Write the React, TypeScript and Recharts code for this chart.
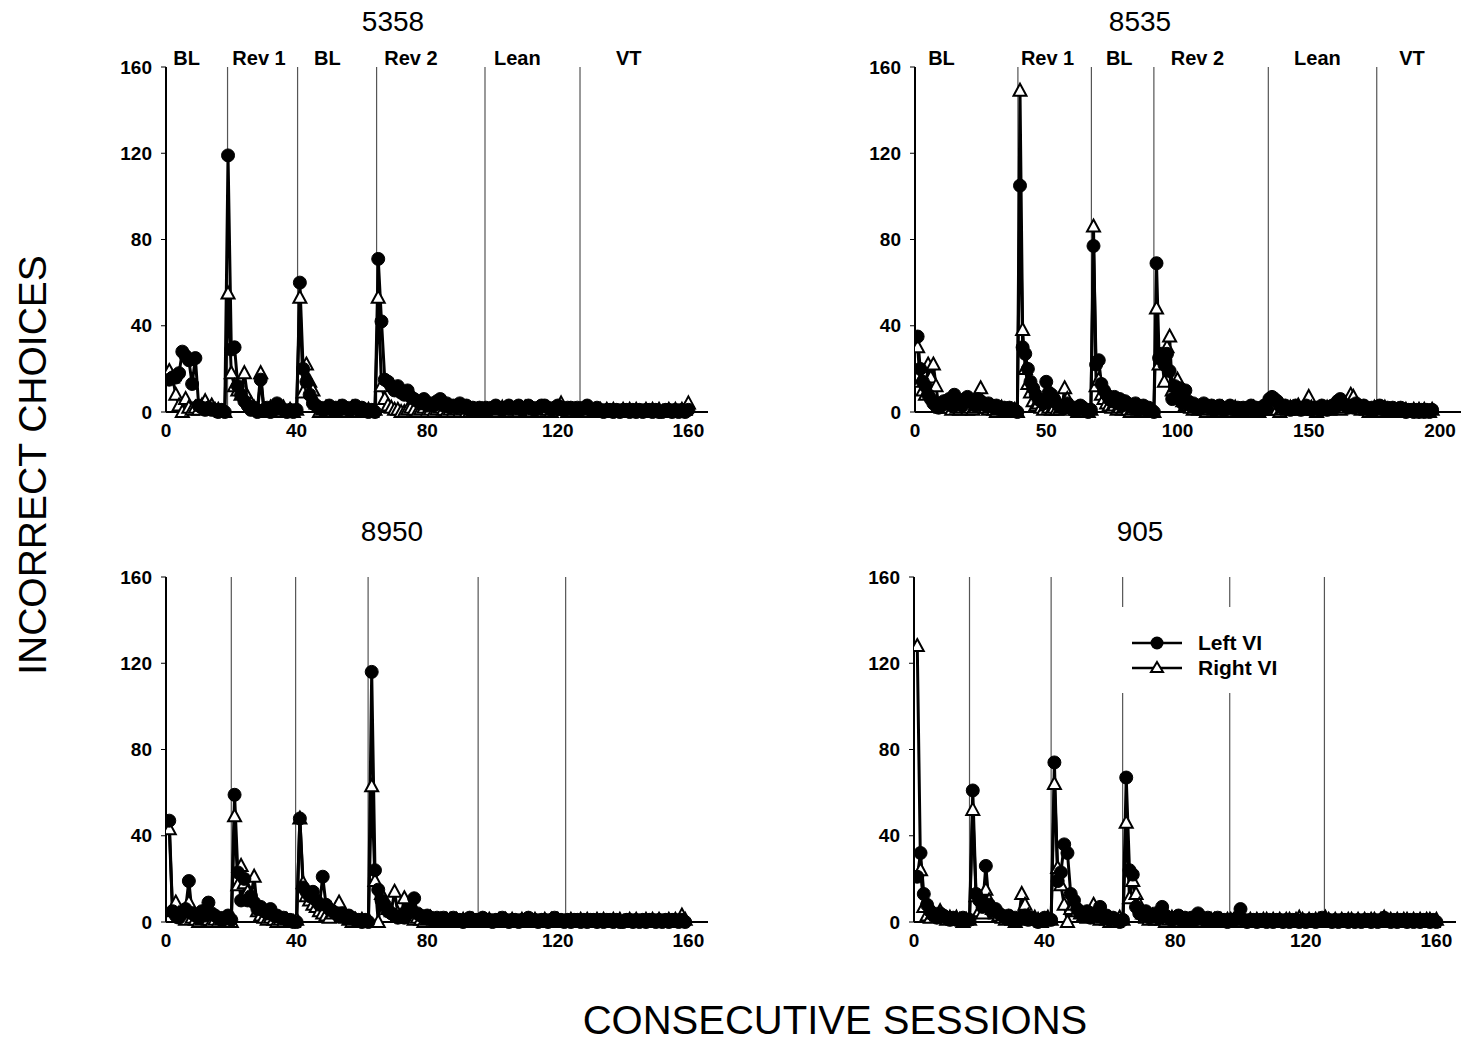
import { LineChart, Line, XAxis, YAxis, ReferenceLine, Legend } from "recharts";

const FONT = "'Liberation Sans', Arial, Helvetica, sans-serif";

// incorrect choices per session, one array per bird and lever
const left5358 = [
  15, 16, 16, 18, 28, 26, 24, 13, 25, 3, 2, 1, 2, 1, 1, 0, 1, 0,
  119, 29, 30, 12, 8, 5, 3, 1, 2, 0, 15, 1, 2, 0, 1, 4, 2, 1, 0, 1, 0, 1,
  60, 20, 14, 8, 4, 3, 2, 1, 2, 3, 1, 2, 1, 3, 2, 1, 2, 3, 1, 2, 1, 0, 1, 0,
  71, 42, 15, 14, 12, 10, 12, 9, 8, 10, 7, 6, 5, 4, 6, 3, 4, 3, 5, 6, 3, 4, 2, 3, 2, 4, 2, 3, 1, 2, 1, 2,
  1, 2, 1, 2, 3, 2, 1, 2, 3, 2, 2, 3, 1, 2, 3, 2, 1, 2, 3, 3, 2, 1, 2, 3, 2, 1, 2, 2, 1, 2, 1,
  2, 3, 1, 1, 2, 1, 0, 1, 1, 0, 1, 0, 1, 1, 0, 1, 0, 1, 0, 1, 1, 0, 1, 0, 0, 1, 1, 0, 1, 0, 1, 0, 1,
];
const right5358 = [
  19, 16, 8, 3, 0, 6, 2, 1, 2, 1, 3, 5, 2, 3, 1, 1, 0, 0,
  55, 18, 12, 10, 8, 18, 7, 4, 2, 1, 18, 1, 0, 2, 1, 0, 1, 2, 0, 1, 0, 1,
  53, 9, 22, 14, 10, 4, 0, 1, 2, 1, 0, 1, 2, 1, 0, 1, 2, 1, 0, 1, 0, 1, 0, 1,
  53, 12, 6, 3, 2, 1, 1, 0, 0, 1, 2, 1, 0, 1, 2, 0, 1, 0, 1, 2, 1, 0, 1, 0, 1, 0, 1, 0, 0, 1, 0, 1,
  1, 0, 1, 1, 0, 1, 2, 1, 0, 1, 1, 0, 1, 2, 1, 0, 1, 1, 0, 1, 1, 0, 1, 1, 4, 1, 0, 1, 1, 0, 1,
  1, 0, 1, 0, 0, 1, 0, 1, 0, 1, 0, 0, 1, 0, 1, 0, 1, 0, 0, 1, 0, 1, 0, 1, 0, 0, 1, 0, 1, 0, 1, 1, 4,
];

const left8535 = [
  35, 20, 14, 12, 8, 6, 4, 3, 2, 3, 5, 4, 6, 3, 8, 5, 4, 3, 6, 7, 5, 4, 3, 6, 5, 4, 3, 4, 3, 2, 3, 2, 1, 2, 1, 2, 1, 1, 0,
  105, 30, 27, 20, 14, 11, 8, 6, 5, 4, 14, 9, 8, 6, 4, 3, 2, 3, 4, 2, 1, 2, 1, 3, 2, 1, 0, 1,
  77, 22, 24, 13, 10, 8, 6, 5, 7, 4, 6, 3, 5, 4, 3, 2, 4, 1, 2, 3, 1, 2, 1, 0,
  69, 25, 27, 22, 27, 19, 6, 12, 8, 11, 4, 10, 5, 3, 4, 2, 3, 2, 4, 3, 2, 3, 1, 2, 3, 2, 1, 2, 3, 2, 1, 2, 1, 2, 1, 2, 3, 1, 2, 1, 2, 3, 2,
  6, 7, 6, 5, 3, 2, 3, 2, 1, 2, 3, 2, 1, 2, 3, 2, 1, 2, 2, 1, 3, 2, 1, 2, 3, 2, 5, 6, 4, 3, 2, 3, 2, 4, 3, 2, 3, 2, 1, 2, 1,
  2, 3, 2, 1, 2, 1, 2, 1, 1, 2, 1, 0, 1, 1, 0, 1, 0, 1, 0, 1, 0, 1,
];
const right8535 = [
  30, 14, 10, 8, 22, 16, 22, 12, 3, 2, 4, 3, 2, 1, 3, 2, 1, 2, 3, 1, 2, 1, 2, 3, 11, 3, 2, 1, 2, 1, 0, 1, 2, 1, 0, 1, 0, 1, 0,
  149, 38, 20, 13, 9, 5, 3, 4, 2, 1, 3, 2, 1, 2, 1, 1, 2, 11, 6, 3, 2, 1, 0, 1, 0, 1, 0, 1,
  86, 12, 15, 8, 6, 4, 3, 2, 3, 1, 2, 1, 2, 1, 0, 1, 2, 1, 0, 1, 0, 1, 0, 0,
  48, 22, 25, 14, 30, 35, 10, 12, 15, 8, 5, 3, 4, 2, 1, 2, 1, 2, 1, 0, 1, 2, 1, 0, 1, 2, 1, 1, 0, 1, 2, 1, 0, 1, 1, 0, 1, 2, 1, 0, 1, 1, 2,
  1, 2, 3, 1, 0, 1, 2, 1, 2, 1, 2, 3, 1, 2, 1, 7, 2, 1, 0, 1, 2, 1, 2, 1, 2, 3, 2, 1, 2, 3, 4, 8, 7, 3, 2, 1, 2, 1, 0, 1, 2,
  1, 0, 1, 2, 1, 0, 1, 0, 1, 1, 0, 1, 0, 0, 1, 0, 1, 0, 1, 0, 0, 1,
];

const left8950 = [
  47, 5, 3, 2, 4, 6, 19, 4, 3, 2, 5, 3, 9, 4, 3, 2, 1, 2, 3,
  1, 59, 23, 10, 20, 10, 12, 9, 6, 7, 5, 4, 6, 3, 3, 2, 2, 1, 1, 0, 0,
  48, 16, 14, 12, 14, 10, 8, 21, 8, 6, 5, 4, 3, 4, 2, 3, 2, 1, 1, 0, 1, 0,
  116, 24, 15, 10, 8, 5, 4, 3, 2, 3, 2, 4, 6, 11, 4, 3, 2, 3, 2, 1, 2, 1, 2, 1, 1, 2, 1, 1, 0, 1, 2, 1, 1,
  1, 2, 1, 1, 0, 1, 1, 2, 1, 0, 1, 1, 0, 1, 1, 2, 1, 1, 0, 1, 1, 0, 1, 2, 1, 1, 0,
  1, 0, 1, 1, 0, 1, 0, 1, 1, 0, 1, 0, 1, 1, 0, 1, 0, 0, 1, 1, 0, 1, 0, 1, 0, 1, 1, 0, 1, 0, 1, 0, 1, 1, 0, 1, 0,
];
const right8950 = [
  43, 5, 9, 4, 2, 1, 9, 2, 1, 0, 1, 2, 1, 0, 1, 0, 1, 0, 1,
  0, 49, 17, 26, 18, 14, 12, 21, 5, 3, 2, 1, 2, 1, 0, 1, 0, 1, 0, 0, 1,
  48, 18, 12, 10, 8, 7, 5, 4, 3, 2, 4, 6, 9, 3, 2, 1, 0, 1, 0, 1, 0, 1,
  63, 19, 0, 13, 8, 6, 5, 14, 4, 3, 11, 2, 3, 1, 2, 1, 0, 1, 2, 1, 0, 1, 0, 1, 1, 0, 1, 0, 1, 0, 1, 1, 0,
  0, 1, 0, 1, 0, 0, 1, 0, 1, 0, 1, 0, 0, 1, 0, 1, 0, 1, 0, 0, 1, 0, 1, 0, 1, 0, 0,
  0, 1, 0, 0, 1, 0, 1, 0, 0, 1, 0, 1, 0, 0, 1, 0, 1, 0, 0, 1, 0, 1, 0, 0, 1, 0, 1, 0, 1, 0, 0, 1, 0, 1, 0, 3, 1,
];

const left905 = [
  21, 32, 13, 8, 5, 3, 2, 4, 3, 2, 1, 2, 1, 1, 2, 1, 1,
  61, 13, 10, 7, 26, 8, 5, 6, 4, 3, 2, 3, 1, 2, 1, 2, 3, 1, 2, 1, 0, 1, 2, 1,
  1, 74, 19, 23, 36, 32, 13, 10, 6, 4, 3, 5, 2, 4, 3, 7, 2, 3, 1, 2, 1, 0, 1,
  67, 24, 22, 7, 4, 3, 5, 2, 3, 4, 2, 7, 3, 2, 1, 2, 3, 1, 2, 1, 2, 1, 4, 2, 1, 2, 1, 1, 2, 1, 1, 0, 1,
  1, 2, 6, 1, 0, 1, 1, 0, 1, 1, 0, 1, 0, 1, 1, 0, 1, 0, 1, 1, 0, 1, 0, 1, 1, 0, 1, 2, 1,
  1, 0, 1, 0, 1, 1, 0, 1, 0, 1, 0, 1, 1, 0, 1, 0, 1, 2, 1, 0, 1, 0, 1, 1, 0, 1, 0, 1, 0, 1, 1, 0, 1, 0,
];
const right905 = [
  128, 24, 7, 3, 2, 4, 3, 5, 2, 1, 2, 1, 2, 1, 0, 1, 1,
  52, 12, 5, 4, 15, 10, 6, 4, 3, 2, 1, 2, 1, 0, 1, 13, 8, 3, 1, 2, 1, 0, 1, 2,
  1, 64, 25, 17, 8, 0, 6, 8, 5, 4, 3, 2, 3, 8, 2, 1, 2, 1, 0, 1, 0, 2, 1,
  46, 11, 19, 13, 8, 4, 2, 1, 3, 1, 2, 1, 0, 1, 2, 1, 0, 1, 1, 0, 1, 2, 1, 0, 1, 0, 1, 1, 0, 1, 0, 1, 1,
  1, 0, 1, 1, 0, 1, 0, 1, 0, 1, 1, 0, 1, 0, 1, 0, 1, 1, 0, 1, 2, 1, 0, 1, 0, 1, 1, 0, 2,
  1, 0, 1, 0, 1, 0, 1, 1, 0, 1, 0, 1, 0, 1, 1, 0, 1, 2, 0, 1, 0, 1, 0, 1, 1, 0, 1, 0, 1, 0, 1, 1, 0, 1,
];

// condition changes (session) and condition names
const phases5358 = [18.85, 40.3, 64.5, 97.7, 126.8];
const phases8535 = [39.2, 67.2, 91, 134.6, 175.9];
const phases8950 = [20, 39.7, 61.9, 95.6, 122.4];
const phases905 = [17, 42, 63.9, 96.7, 125.7];
const phaseNames = ["BL", "Rev 1", "BL", "Rev 2", "Lean", "VT"];
const namesAt5358 = [6.3, 28.5, 49.4, 75, 107.6, 141.7];
const namesAt8535 = [10.1, 50.5, 77.8, 107.6, 153.3, 189.3];

const yTicks = [0, 40, 80, 120, 160];
const xTicks160 = [0, 40, 80, 120, 160];
const xTicks200 = [0, 50, 100, 150, 200];

function toRows(left: number[], right: number[]) {
  return left.map((v, i) => ({ session: i + 1, left: v, right: right[i] }));
}

const Tri = (props: any) => {
  const { cx, cy, index } = props;
  if (cx == null || cy == null) return <g key={`t${index}`} />;
  return (
    <path
      key={`t${index}`}
      d={`M${cx},${cy - 7}L${cx + 6.5},${cy + 5}L${cx - 6.5},${cy + 5}Z`}
      fill="#fff"
      stroke="#000"
      strokeWidth={2}
    />
  );
};

const LegendBox = () => (
  <svg width={175} height={86} style={{ display: "block" }}>
    <line x1={16} x2={66} y1={36} y2={36} stroke="#000" strokeWidth={2.5} />
    <circle cx={41} cy={36} r={6.5} fill="#000" />
    <text x={82} y={43} fontSize={21} fontWeight="bold" fontFamily={FONT} fill="#000">Left VI</text>
    <line x1={16} x2={66} y1={61} y2={61} stroke="#000" strokeWidth={2.5} />
    <path d="M41,55L47,65L35,65Z" fill="#fff" stroke="#000" strokeWidth={2} />
    <text x={82} y={68} fontSize={21} fontWeight="bold" fontFamily={FONT} fill="#000">Right VI</text>
  </svg>
);

interface PanelProps {
  title: string;
  titleX: number;
  rows: { session: number; left: number; right: number }[];
  x0: number;
  x1: number;
  y0: number;
  y1: number;
  xMax: number;
  xTicks: number[];
  phases: number[];
  namesAt?: number[];
  legend?: boolean;
}

const tickStyle = { fill: "#000", fontSize: 19, fontWeight: "bold", fontFamily: FONT };

function Panel({ title, titleX, rows, x0, x1, y0, y1, xMax, xTicks, phases, namesAt, legend }: PanelProps) {
  const padL = 70, padT = 36, padR = 15, padB = 45;
  const W = x1 - x0 + padL + padR;
  const H = y1 - y0 + padT + padB;
  return (
    <>
      <div
        style={{
          position: "absolute",
          left: titleX - 100,
          top: y0 - 61,
          width: 200,
          textAlign: "center",
          fontSize: 28,
          lineHeight: "32px",
          fontFamily: FONT,
        }}
      >
        {title}
      </div>
      <div style={{ position: "absolute", left: x0 - padL, top: y0 - padT }}>
        <LineChart
          width={W}
          height={H}
          data={rows}
          margin={{ top: padT, right: padR, bottom: padB - 35, left: padL - 55 }}
        >
          <XAxis
            type="number"
            dataKey="session"
            domain={[0, xMax]}
            ticks={xTicks}
            allowDataOverflow
            height={35}
            tickLine={false}
            tickSize={0}
            tickMargin={12}
            axisLine={{ stroke: "#000", strokeWidth: 2 }}
            tick={tickStyle}
          />
          <YAxis
            type="number"
            domain={[0, 160]}
            ticks={yTicks}
            width={55}
            tickSize={5}
            tickMargin={9}
            tickLine={{ stroke: "#000" }}
            axisLine={{ stroke: "#000", strokeWidth: 2 }}
            tick={tickStyle}
          />
          {phases.map((p) => (
            <ReferenceLine key={`p${p}`} x={p} stroke="#555" strokeWidth={1.2} />
          ))}
          {namesAt &&
            namesAt.map((n, i) => (
              <ReferenceLine
                key={`n${n}`}
                x={n}
                stroke="none"
                label={{
                  value: phaseNames[i],
                  position: "top",
                  offset: 2,
                  fill: "#000",
                  fontSize: 20,
                  fontWeight: "bold",
                  fontFamily: FONT,
                }}
              />
            ))}
          <Line
            type="linear"
            dataKey="right"
            stroke="#000"
            strokeWidth={3}
            dot={Tri}
            activeDot={false}
            isAnimationActive={false}
          />
          <Line
            type="linear"
            dataKey="left"
            stroke="#000"
            strokeWidth={3}
            dot={{ r: 6.5, fill: "#000", stroke: "#000", strokeWidth: 1 }}
            activeDot={false}
            isAnimationActive={false}
          />
          {legend && (
            <Legend
              layout="horizontal"
              verticalAlign="middle"
              align="center"
              content={LegendBox}
              wrapperStyle={{
                left: 1116 - (x0 - padL),
                top: 607 - (y0 - padT),
                width: 175,
                height: 86,
                background: "#fff",
              }}
            />
          )}
        </LineChart>
      </div>
    </>
  );
}

export default function App() {
  return (
    <div
      style={{
        position: "absolute",
        left: 0,
        top: 0,
        width: 1464,
        height: 1041,
        background: "#fff",
        fontFamily: FONT,
        overflow: "hidden",
      }}
    >
      <Panel
        title="5358" titleX={393}
        rows={toRows(left5358, right5358)}
        x0={166} x1={708} y0={67} y1={412}
        xMax={166} xTicks={xTicks160}
        phases={phases5358} namesAt={namesAt5358}
      />
      <Panel
        title="8535" titleX={1140}
        rows={toRows(left8535, right8535)}
        x0={915} x1={1461} y0={67} y1={412}
        xMax={208} xTicks={xTicks200}
        phases={phases8535} namesAt={namesAt8535}
      />
      <Panel
        title="8950" titleX={392}
        rows={toRows(left8950, right8950)}
        x0={166} x1={708} y0={577} y1={922}
        xMax={166} xTicks={xTicks160}
        phases={phases8950}
      />
      <Panel
        title="905" titleX={1140}
        rows={toRows(left905, right905)}
        x0={914} x1={1456} y0={577} y1={922}
        xMax={166} xTicks={xTicks160}
        phases={phases905}
        legend
      />
      <div
        style={{
          position: "absolute",
          left: 33 - 300,
          top: 465 - 25,
          width: 600,
          height: 50,
          lineHeight: "50px",
          textAlign: "center",
          fontSize: 39,
          transform: "rotate(-90deg)",
        }}
      >
        INCORRECT CHOICES
      </div>
      <div
        style={{
          position: "absolute",
          left: 835 - 300,
          top: 1020 - 25,
          width: 600,
          height: 50,
          lineHeight: "50px",
          textAlign: "center",
          fontSize: 40,
        }}
      >
        CONSECUTIVE SESSIONS
      </div>
    </div>
  );
}
